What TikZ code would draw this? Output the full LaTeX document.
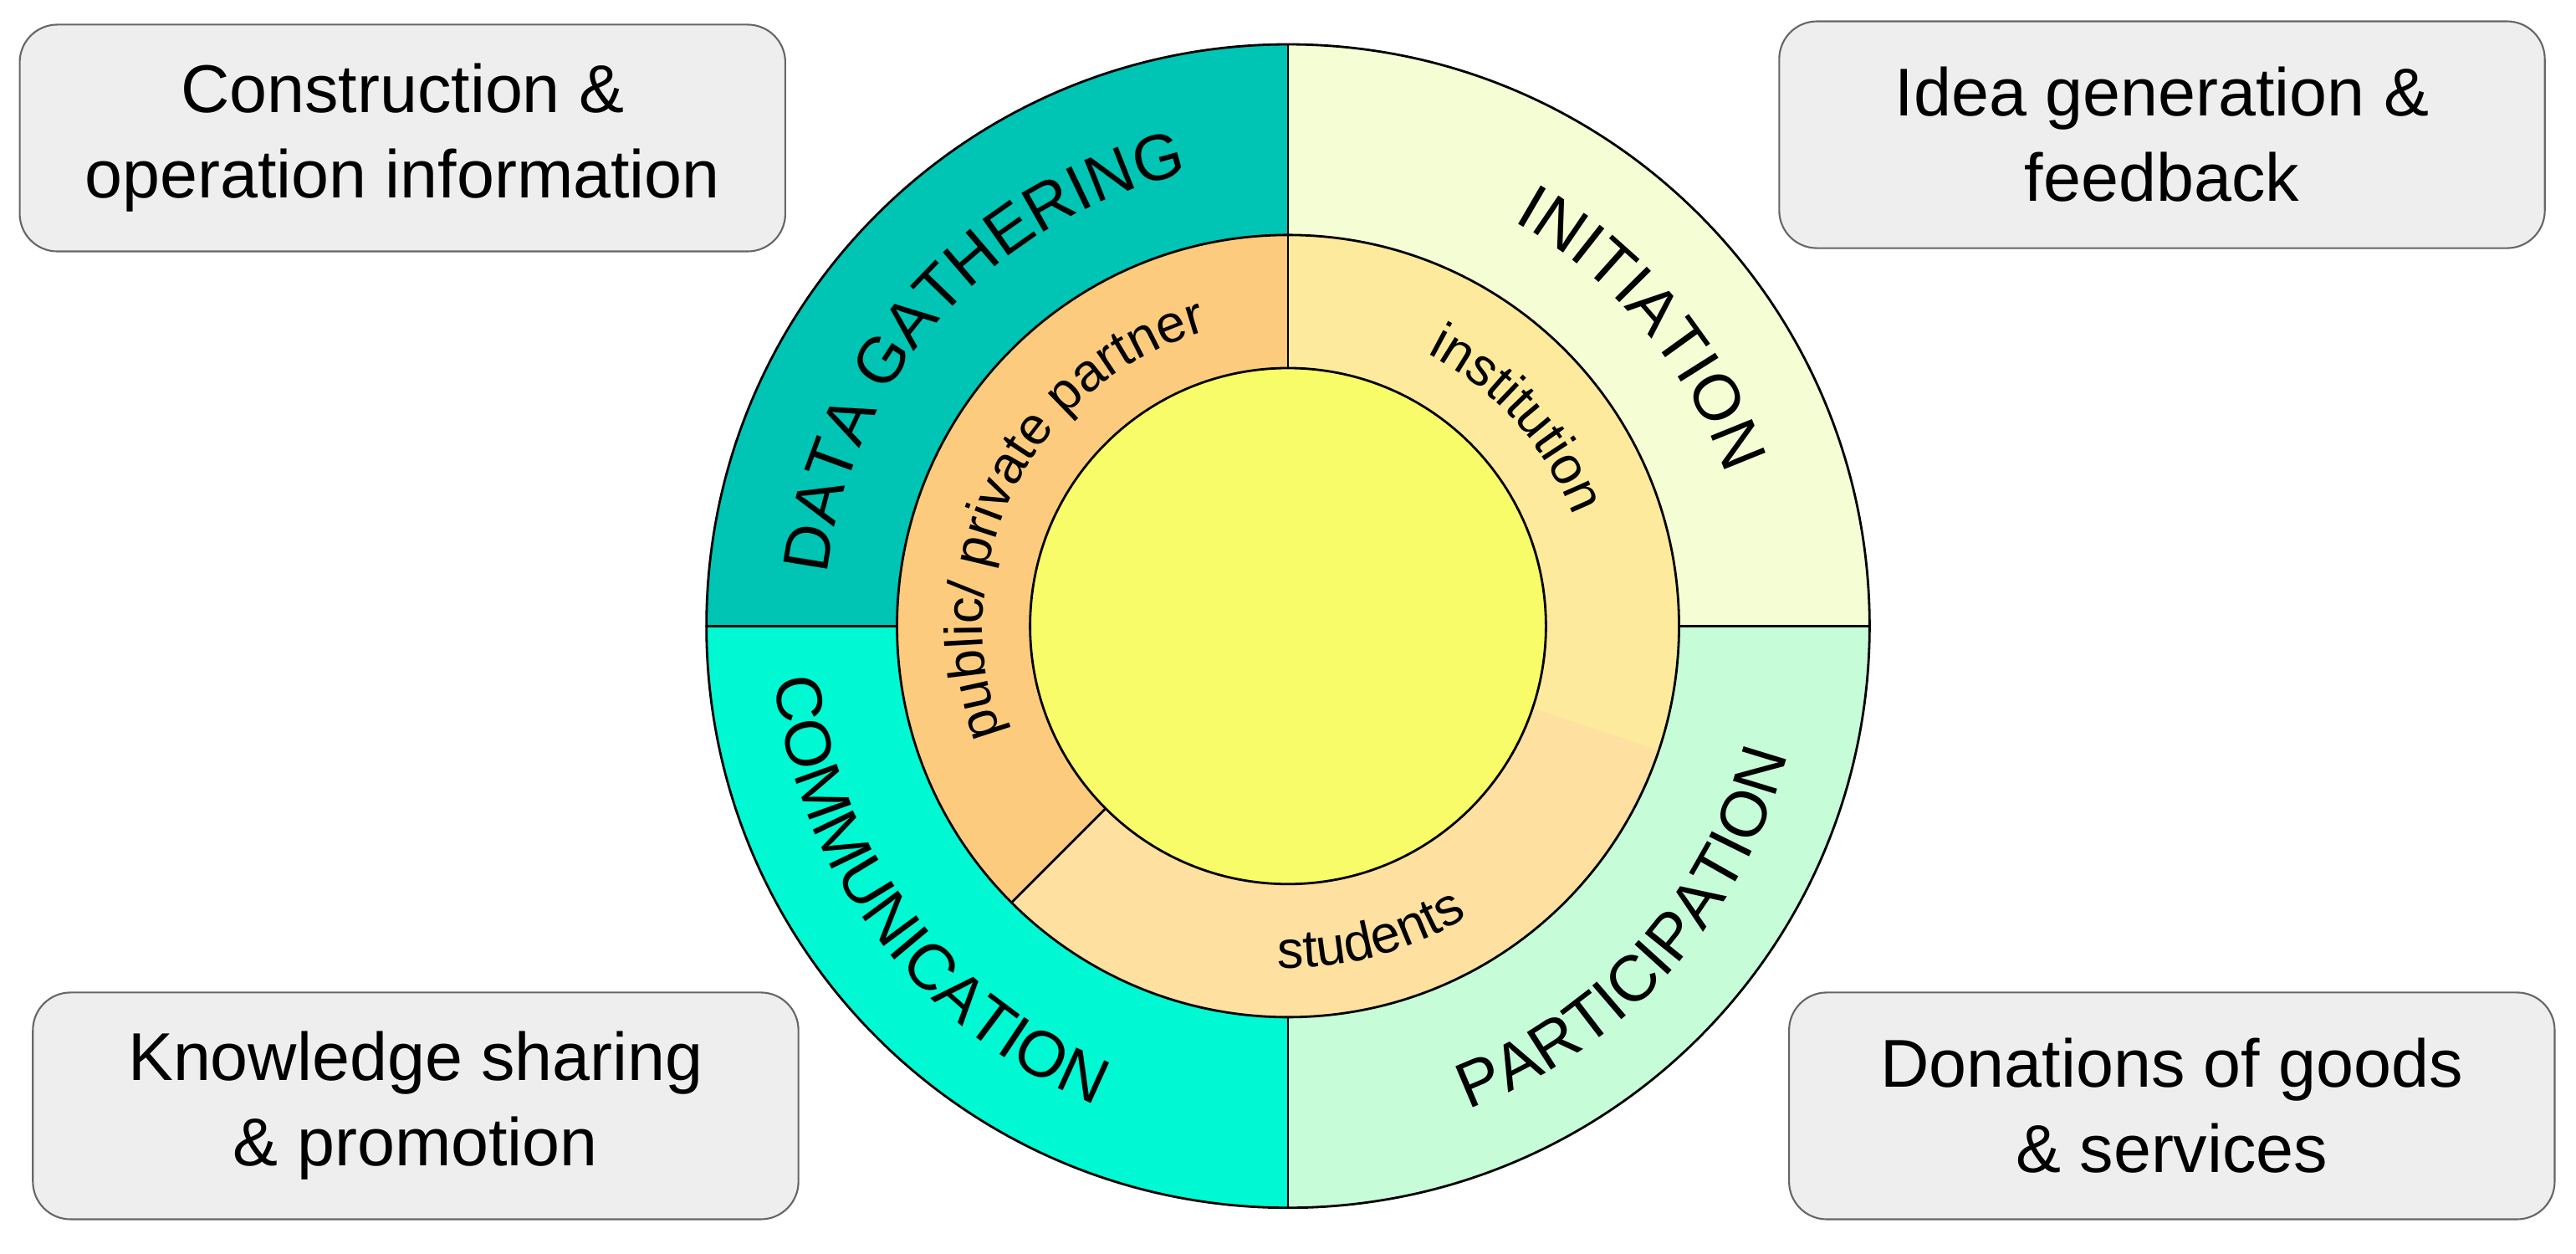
\documentclass[tikz,border=0pt]{standalone}
\usepackage{fontspec}
\setmainfont{Liberation Sans}
\usetikzlibrary{decorations.text,calc}
\definecolor{tl}{HTML}{00C4B4}
\definecolor{tr}{HTML}{F5FDD5}
\definecolor{br}{HTML}{C6FCD8}
\definecolor{bl}{HTML}{00F8D2}
\definecolor{pp}{HTML}{FDCB7E}
\definecolor{ins}{HTML}{FEEA9C}
\definecolor{stu}{HTML}{FEE0A0}
\definecolor{core}{HTML}{F8FC68}
\definecolor{boxf}{HTML}{EEEEEE}
\begin{document}
\begin{tikzpicture}[x=0.01964cm,y=0.01964cm,
  box/.style={draw=black!60,fill=boxf,rounded corners=0.45cm,line width=0.6pt,align=center,font=\fontsize{23}{29}\selectfont,minimum width=466*0.01964cm,minimum height=138*0.01964cm},
  seg/.style={draw=black,line width=0.8pt},
  arct/.style={decorate,decoration={text along path,text align=center,text={#1}}}]
\useasboundingbox (0,0) rectangle (1568,763);
\coordinate (c) at (784,382);
% outer quadrants
\fill[tl] (c) -- ++(180:354) arc (180:90:354) -- cycle;
\fill[tr] (c) -- ++(90:354) arc (90:0:354) -- cycle;
\fill[br] (c) -- ++(0:354) arc (0:-90:354) -- cycle;
\fill[bl] (c) -- ++(-90:354) arc (-90:-180:354) -- cycle;
\draw[seg] (c) circle (354);
\draw[seg] ($(c)+(-354,0)$) -- ($(c)+(354,0)$);
\draw[seg] ($(c)+(0,-354)$) -- ($(c)+(0,354)$);
% middle ring
\fill[pp] (c) -- ++(90:238) arc (90:225:238) -- cycle;
\fill[stu] (c) -- ++(225:238) arc (225:341.5:238) -- cycle;
\fill[ins] (c) -- ++(-18.5:238) arc (-18.5:90:238) -- cycle;
\draw[seg] (c) circle (238);
\draw[seg] ($(c)+(225:238)$) -- ($(c)+(225:157)$);
\draw[seg] ($(c)+(90:238)$) -- ($(c)+(90:157)$);
% core
\fill[core,draw=black,line width=0.8pt] (c) circle (157);
% outer labels
\path[arct={|\fontsize{22}{22}\selectfont|DATA GATHERING}] ($(c)+(183:282)$) arc (183:93:282);
\path[arct={|\fontsize{22}{22}\selectfont|INITIATION}] ($(c)+(85:282)$) arc (85:-5:282);
\path[arct={|\fontsize{22}{22}\selectfont|COMMUNICATION}] ($(c)+(172:314)$) arc (172:262:314);
\path[arct={|\fontsize{22}{22}\selectfont|PARTICIPATION}] ($(c)+(-87:314)$) arc (-87:3:314);
% middle labels
\path[arct={|\fontsize{18}{18}\selectfont|public/ private partner}] ($(c)+(205:186)$) arc (205:101:186);
\path[arct={|\fontsize{18}{18}\selectfont|institution}] ($(c)+(72:186)$) arc (72:12:186);
\path[arct={|\fontsize{18}{18}\selectfont|students}] ($(c)+(-105:208)$) arc (-105:-45:208);
% boxes
\node[box] (b1) at (245,679) {Construction \&\\operation information};
\node[box] (b2) at (1316,681) {Idea generation \&\\feedback};
\node[box] (b3) at (253,90) {Knowledge sharing\\\& promotion};
\node[box] (b4) at (1322,90) {Donations of goods\\\& services};
\end{tikzpicture}
\end{document}
